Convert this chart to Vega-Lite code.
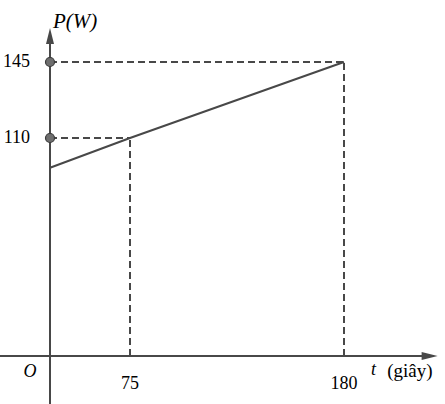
{
  "$schema": "https://vega.github.io/schema/vega-lite/v6.json",
  "width": 445,
  "height": 404,
  "padding": 0,
  "autosize": "none",
  "background": "white",
  "config": {"view": {"stroke": null}},
  "encoding": {
    "x": {"field": "t", "type": "quantitative", "axis": null,
      "scale": {"domain": [0, 75, 180], "range": [50, 130, 344], "nice": false, "zero": false}},
    "y": {"field": "p", "type": "quantitative", "axis": null,
      "scale": {"domain": [0, 110, 145], "range": [356, 138, 62], "nice": false, "zero": false}}
  },
  "layer": [
    {
      "data": {"values": [
        {"t": -47, "p": 0, "t2": 222, "p2": 0},
        {"t": 0, "p": -25, "t2": 0, "p2": 157}
      ]},
      "mark": {"type": "rule", "color": "#484848", "strokeWidth": 2},
      "encoding": {"x2": {"field": "t2"}, "y2": {"field": "p2"}}
    },
    {
      "data": {"values": [
        {"t": 0, "p": 145, "t2": 180, "p2": 145},
        {"t": 0, "p": 110, "t2": 75, "p2": 110},
        {"t": 75, "p": 0, "t2": 75, "p2": 110},
        {"t": 180, "p": 0, "t2": 180, "p2": 145}
      ]},
      "mark": {"type": "rule", "color": "#484848", "strokeWidth": 2, "strokeDash": [7, 4]},
      "encoding": {"x2": {"field": "t2"}, "y2": {"field": "p2"}}
    },
    {
      "data": {"values": [
        {"t": 0, "p": 95},
        {"t": 75, "p": 110},
        {"t": 180, "p": 145}
      ]},
      "mark": {"type": "line", "color": "#484848", "strokeWidth": 2}
    },
    {
      "data": {"values": [{"t": 0, "p": 145}, {"t": 0, "p": 110}]},
      "mark": {"type": "point", "shape": "circle", "size": 81, "filled": true, "fill": "#6e6e6e", "stroke": "#3a3a3a", "strokeWidth": 1.2, "opacity": 1}
    },
    {
      "data": {"values": [{"t": 222, "p": 0}]},
      "mark": {"type": "point", "shape": "M1,0L-1,-0.5L-1,0.5Z", "size": 256, "filled": true, "fill": "#484848", "opacity": 1}
    },
    {
      "data": {"values": [{"t": 0, "p": 157}]},
      "mark": {"type": "point", "shape": "M0,-1L0.5,1L-0.5,1Z", "size": 256, "filled": true, "fill": "#484848", "opacity": 1}
    },
    {
      "data": {"values": [{"t": 0, "p": 145, "label": "145"}, {"t": 0, "p": 110, "label": "110"}]},
      "mark": {"type": "text", "align": "right", "baseline": "middle", "dx": -20, "font": "Liberation Serif", "fontSize": 18, "color": "black"},
      "encoding": {"text": {"field": "label"}}
    },
    {
      "data": {"values": [{"t": 75, "p": 0, "label": "75"}, {"t": 180, "p": 0, "label": "180"}]},
      "mark": {"type": "text", "align": "center", "baseline": "middle", "dy": 28, "font": "Liberation Serif", "fontSize": 18, "color": "black"},
      "encoding": {"text": {"field": "label"}}
    },
    {
      "data": {"values": [{"t": 0, "p": 0, "label": "O"}]},
      "mark": {"type": "text", "align": "center", "baseline": "middle", "dx": -20, "dy": 16, "font": "Liberation Serif", "fontStyle": "italic", "fontSize": 18, "color": "black"},
      "encoding": {"text": {"field": "label"}}
    },
    {
      "data": {"values": [{"t": 222, "p": 0, "label": "t"}]},
      "mark": {"type": "text", "align": "center", "baseline": "middle", "dx": -56, "dy": 14, "font": "Liberation Serif", "fontStyle": "italic", "fontSize": 18, "color": "black"},
      "encoding": {"text": {"field": "label"}}
    },
    {
      "data": {"values": [{"t": 222, "p": 0, "label": "(giây)"}]},
      "mark": {"type": "text", "align": "right", "baseline": "middle", "dx": 3, "dy": 15, "font": "Liberation Serif", "fontSize": 19, "color": "black"},
      "encoding": {"text": {"field": "label"}}
    },
    {
      "data": {"values": [{"t": 0, "p": 157, "label": "P(W)"}]},
      "mark": {"type": "text", "align": "left", "baseline": "middle", "dx": 3, "dy": -14, "font": "Liberation Serif", "fontStyle": "italic", "fontSize": 21, "color": "black"},
      "encoding": {"text": {"field": "label"}}
    }
  ]
}
